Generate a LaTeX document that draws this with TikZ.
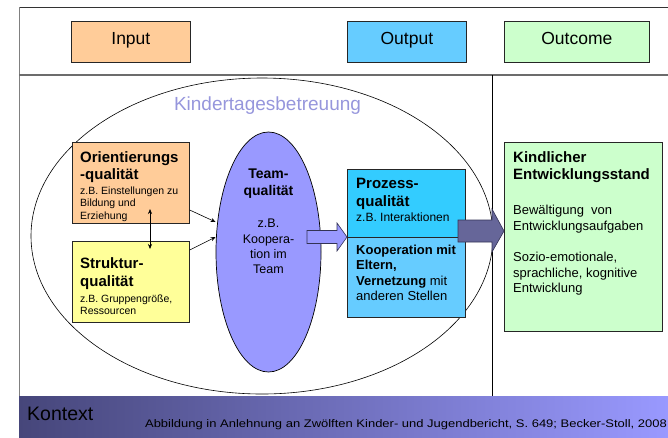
\documentclass[tikz,border=0pt]{standalone}
\usepackage{fontspec}
\usepackage{graphicx}
\setmainfont{Liberation Sans}
\usetikzlibrary{arrows.meta,shapes.geometric}
\definecolor{cOrange}{HTML}{FFCC99}
\definecolor{cYellow}{HTML}{FFFF99}
\definecolor{cViolet}{HTML}{9999FF}
\definecolor{cBlue}{HTML}{66CCFF}
\definecolor{cCyan}{HTML}{33CCFF}
\definecolor{cGreen}{HTML}{CCFFCC}
\definecolor{cDark}{HTML}{666699}
\definecolor{cDarkLine}{HTML}{333355}
\definecolor{cKita}{RGB}{150,150,220}
\definecolor{bandL}{RGB}{70,70,122}
\definecolor{bandR}{RGB}{153,153,255}
\newcommand\myfs[1]{\fontsize{#1}{#1}\selectfont}
\begin{document}
\begin{tikzpicture}[x=1pt,y=-1pt,
  box/.style={draw=black!85, line width=0.7pt, rectangle, inner sep=0pt, anchor=north west},
  txt/.style={inner sep=0pt, anchor=base west},
  ctxt/.style={inner sep=0pt, anchor=base},
  hb/.style={font=\myfs{15}\bfseries},
  sm/.style={font=\myfs{10.5}},
  tb/.style={font=\myfs{14}\bfseries},
  tr/.style={font=\myfs{12.5}},
  pr/.style={font=\myfs{12}},
  kb/.style={font=\myfs{13}\bfseries},
  kr/.style={font=\myfs{13}},
  head/.style={font=\myfs{17.5}, inner sep=0pt, anchor=base},
  thin arrow/.style={-{Stealth[length=5pt,width=4pt]}, line width=0.6pt, black},
  block/.style={line width=0.6pt, line join=miter}
]
\useasboundingbox (0,0) rectangle (668,437);

% frame
\draw[black!80, line width=0.8pt] (19,7) -- (668,7);
\draw[gray, line width=1pt] (19,7) -- (19,396);
\draw[gray!85!black, line width=1.2pt] (19,75) -- (668,75);
\draw[black, line width=0.6pt] (492,75) -- (492,396);

% header boxes
\node[box, fill=cOrange, minimum width=119pt, minimum height=41pt] (input) at (71,21) {};
\node[box, fill=cBlue, minimum width=119pt, minimum height=41pt] (output) at (347,21) {};
\node[box, fill=cGreen, minimum width=145pt, minimum height=41pt] (outcome) at (504,21) {};
\node[head] (inputT) at (input.center |- 0,44) {Input};
\node[head] (outputT) at (output.center |- 0,44) {Output};
\node[head] (outcomeT) at (outcome.center |- 0,44) {Outcome};

% big ellipse
\node[draw=black, line width=0.6pt, ellipse, inner sep=0pt, minimum width=462pt, minimum height=316pt] (kita) at (262,236) {};
\node[ctxt, font=\myfs{19}, text=cKita] (kitaT) at (267.5,110) {Kindertagesbetreuung};

% input boxes
\node[box, fill=cOrange, minimum width=117pt, minimum height=81pt] (ori) at (72,142) {};
\node[box, fill=cYellow, minimum width=117pt, minimum height=81pt] (struk) at (72,241) {};
\node[txt, hb] (o1) at (80,162) {Orientierungs};
\node[txt, hb] (o2) at (80,179) {-qualität};
\node[txt, sm] (o3) at (80,194) {z.B. Einstellungen zu};
\node[txt, sm] (o4) at (80,206) {Bildung und};
\node[txt, sm] (o5) at (80,219) {Erziehung};
\node[txt, hb] (s1) at (80,268) {Struktur-};
\node[txt, hb] (s2) at (80,286) {qualität};
\node[txt, sm] (s3) at (80,302.5) {z.B. Gruppengröße,};
\node[txt, sm] (s4) at (80,314.5) {Ressourcen};

% team ellipse
\node[draw=black, line width=0.7pt, fill=cViolet, ellipse, inner sep=0pt, minimum width=105pt, minimum height=240pt] (team) at (268.5,252) {};
\node[ctxt, tb] (t1) at (268.5,178) {Team-};
\node[ctxt, tb] (t2) at (268.5,195) {qualität};
\node[ctxt, tr] (t3) at (268.5,227) {z.B.};
\node[ctxt, tr] (t4) at (268.5,243) {Koopera-};
\node[ctxt, tr] (t5) at (268.5,258.5) {tion im};
\node[ctxt, tr] (t6) at (268.5,273) {Team};

% process boxes
\node[box, fill=cCyan, minimum width=118pt, minimum height=68pt] (prozU) at (347,169) {};
\node[box, fill=cBlue, minimum width=118pt, minimum height=80pt] (prozL) at (347,237) {};
\node[txt, hb] (p1) at (356,188) {Prozess-};
\node[txt, hb] (p2) at (356,206) {qualität};
\node[txt, pr] (p3) at (356,221.5) {z.B. Interaktionen};
\node[txt, kb] (p4) at (356,254) {Kooperation mit};
\node[txt, kb] (p5) at (356,269) {Eltern,};
\node[txt, kr] (p6) at (356,285) {\textbf{Vernetzung} mit};
\node[txt, kr] (p7) at (356,300.5) {anderen Stellen};

% outcome box
\node[box, fill=cGreen, minimum width=158pt, minimum height=189pt] (kind) at (504,142) {};
\node[txt, hb] (k1) at (513,162) {Kindlicher};
\node[txt, hb] (k2) at (513,179) {Entwicklungsstand};
\node[txt, kr] (k3) at (513,214) {Bewältigung\ \ von};
\node[txt, kr] (k4) at (513,230) {Entwicklungsaufgaben};
\node[txt, kr] (k5) at (513,261.5) {Sozio-emotionale,};
\node[txt, kr] (k6) at (513,277.5) {sprachliche, kognitive};
\node[txt, kr] (k7) at (513,292.5) {Entwicklung};

% connectors
\coordinate (d1) at (150,209);
\coordinate (d2) at (150,249);
\draw[{Stealth[length=5pt,width=4pt]}-{Stealth[length=5pt,width=4pt]}, line width=0.6pt] (d1) -- (d2);
\draw[thin arrow] (ori.east |- 0,210) -- (team.west |- 0,222);
\draw[thin arrow] (struk.east |- 0,250) -- (team.west |- 0,237);

% block arrows
\draw[block, fill=cViolet, draw=cDarkLine] (307,230.5) -- (337,230.5) -- (337,223) -- (prozU.west |- 0,237) -- (337,251) -- (337,243.5) -- (307,243.5) -- cycle;
\draw[block, fill=cDark, draw=cDarkLine] (458,220) -- (492,220) -- (492,209) -- (kind.west |- 0,231) -- (492,252) -- (492,242) -- (458,242) -- cycle;

% context band
\shade[left color=bandL, right color=bandR] (19,396) rectangle (668,437);
\node[txt, font=\myfs{19.5}] (kontext) at (27,420) {Kontext};
\node[inner sep=0pt, anchor=base east] (cite) at (667,427) {\scalebox{1.18}[1]{\myfs{11}Abbildung in Anlehnung an Zwölften Kinder- und Jugendbericht, S. 649; Becker-Stoll, 2008}};
\end{tikzpicture}
\end{document}
